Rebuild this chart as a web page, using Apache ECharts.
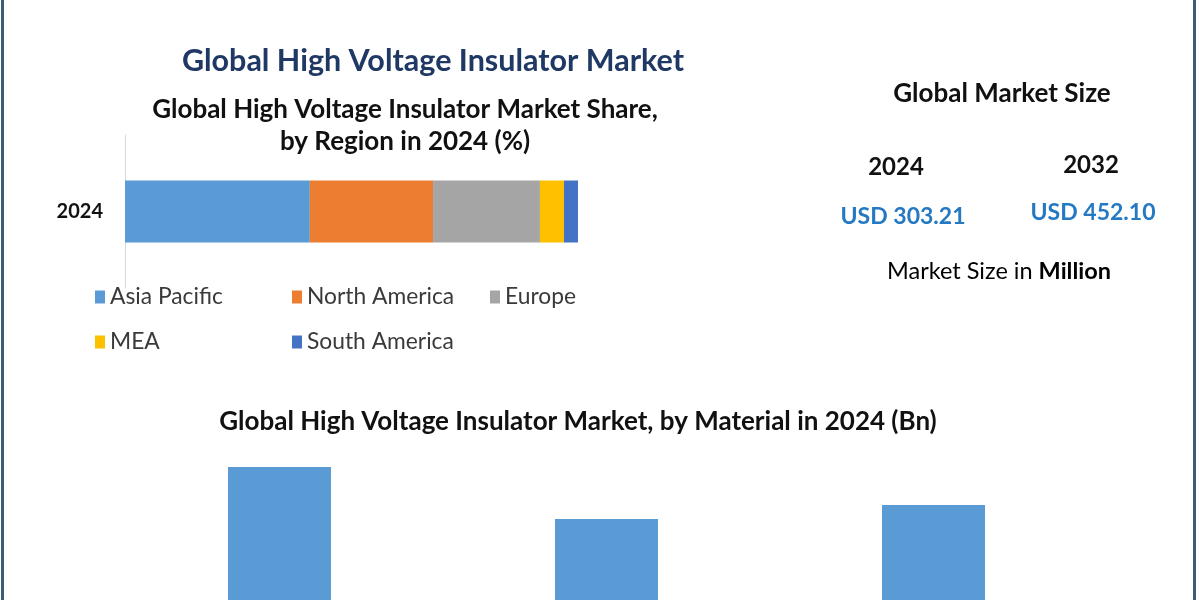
<!DOCTYPE html>
<html>
<head>
<meta charset="utf-8">
<script src="https://cdn.jsdelivr.net/npm/echarts@6/dist/echarts.min.js"></script>
<style>
html,body{margin:0;padding:0;background:#fff;}
#main{width:1200px;height:600px;}
</style>
</head>
<body>
<div id="main"></div>
<script>
// ---- data ----
const shareCategory = ['2024'];
const regionNames = ['Asia Pacific', 'North America', 'Europe', 'MEA', 'South America'];
const regionShares = [40.8, 27.2, 23.6, 5.3, 3.1];
const regionColors = ['#5b9bd5', '#ed7d31', '#a5a5a5', '#ffc000', '#4472c4'];

const materialNames = ['Ceramic', 'Glass', 'Composite'];
const materialValues = [173, 121, 135];

const sizeYears = ['2024', '2032'];
const sizeValues = ['USD 303.21', 'USD 452.10'];

const FONT = 'Lato, "Open Sans", sans-serif';

const chart = echarts.init(document.getElementById('main'));

const regionSeries = regionNames.map((name, i) => ({
  name: name,
  type: 'bar',
  stack: 'share',
  xAxisIndex: 0,
  yAxisIndex: 0,
  barWidth: 62,
  itemStyle: { color: regionColors[i] },
  emphasis: { disabled: true },
  data: [regionShares[i]]
}));

const legendLefts = [95, 292, 490, 95, 292];
const legendTops = [284, 284, 284, 329, 329];
const legends = regionNames.map((name, i) => ({
  left: legendLefts[i],
  top: legendTops[i],
  data: [name],
  icon: 'rect',
  itemWidth: 10,
  itemHeight: 13,
  itemGap: 0,
  itemTextGap: 13,
  padding: 0,
  textStyle: { fontFamily: FONT, fontSize: 22.8, color: '#3a3a3a', lineHeight: 26 }
}));

const option = {
  animation: false,
  backgroundColor: '#ffffff',
  legend: legends,
  grid: [
    { left: 125, top: 135, width: 453, height: 153, containLabel: false },
    { left: 116, width: 981, top: 440, bottom: 0, containLabel: false }
  ],
  xAxis: [
    { type: 'value', gridIndex: 0, min: 0, max: 100, show: false },
    { type: 'category', gridIndex: 1, data: materialNames,
      axisLine: { show: false }, axisTick: { show: false }, axisLabel: { show: false } }
  ],
  yAxis: [
    { type: 'category', gridIndex: 0, data: shareCategory,
      axisLine: { show: true, lineStyle: { color: '#d9d9d9', width: 1 } },
      axisTick: { show: false },
      axisLabel: { fontFamily: FONT, fontSize: 20, fontWeight: 'bold', color: '#111', margin: 22 } },
    { type: 'value', gridIndex: 1, min: 40, max: 200, show: false }
  ],
  series: regionSeries.concat([{
    name: 'Material',
    type: 'bar',
    xAxisIndex: 1,
    yAxisIndex: 1,
    barWidth: 103,
    clip: true,
    itemStyle: { color: '#5b9bd5' },
    emphasis: { disabled: true },
    data: materialValues
  }]),
  graphic: [
    { type: 'line', shape: { x1: 2.5, y1: 0, x2: 2.5, y2: 600 }, style: { stroke: '#3d5a78', lineWidth: 3 }, silent: true },
    { type: 'line', shape: { x1: 1194.5, y1: 0, x2: 1194.5, y2: 600 }, style: { stroke: '#3d5a78', lineWidth: 3 }, silent: true },
    { type: 'text', x: 433, y: 61, style: { text: 'Global High Voltage Insulator Market', fill: '#1f3864', font: 'bold 30.5px ' + FONT, textAlign: 'center', textVerticalAlign: 'middle' } },
    { type: 'text', x: 405, y: 110, style: { text: 'Global High Voltage Insulator Market Share,', fill: '#111', font: 'bold 26px ' + FONT, textAlign: 'center', textVerticalAlign: 'middle' } },
    { type: 'text', x: 405, y: 142, style: { text: 'by Region in 2024 (%)', fill: '#111', font: 'bold 26px ' + FONT, textAlign: 'center', textVerticalAlign: 'middle' } },
    { type: 'text', x: 1002, y: 94, style: { text: 'Global Market Size', fill: '#111', font: 'bold 26px ' + FONT, textAlign: 'center', textVerticalAlign: 'middle' } },
    { type: 'text', x: 896, y: 167, style: { text: sizeYears[0], fill: '#111', font: 'bold 24px ' + FONT, textAlign: 'center', textVerticalAlign: 'middle' } },
    { type: 'text', x: 1091, y: 165, style: { text: sizeYears[1], fill: '#111', font: 'bold 24px ' + FONT, textAlign: 'center', textVerticalAlign: 'middle' } },
    { type: 'text', x: 903, y: 217, style: { text: sizeValues[0], fill: '#2479c2', font: 'bold 23px ' + FONT, textAlign: 'center', textVerticalAlign: 'middle' } },
    { type: 'text', x: 1093, y: 213, style: { text: sizeValues[1], fill: '#2479c2', font: 'bold 23px ' + FONT, textAlign: 'center', textVerticalAlign: 'middle' } },
    { type: 'text', x: 999, y: 271, style: {
        text: '{n|Market Size in }{b|Million}', textAlign: 'center', textVerticalAlign: 'middle',
        rich: {
          n: { fontFamily: FONT, fontSize: 23.5, color: '#222' },
          b: { fontFamily: FONT, fontSize: 23.5, fontWeight: 'bold', color: '#111' }
        } } },
    { type: 'text', x: 578, y: 422, style: { text: 'Global High Voltage Insulator Market, by Material in 2024 (Bn)', fill: '#111', font: 'bold 26px ' + FONT, textAlign: 'center', textVerticalAlign: 'middle' } }
  ]
};

chart.setOption(option);
</script>
</body>
</html>
